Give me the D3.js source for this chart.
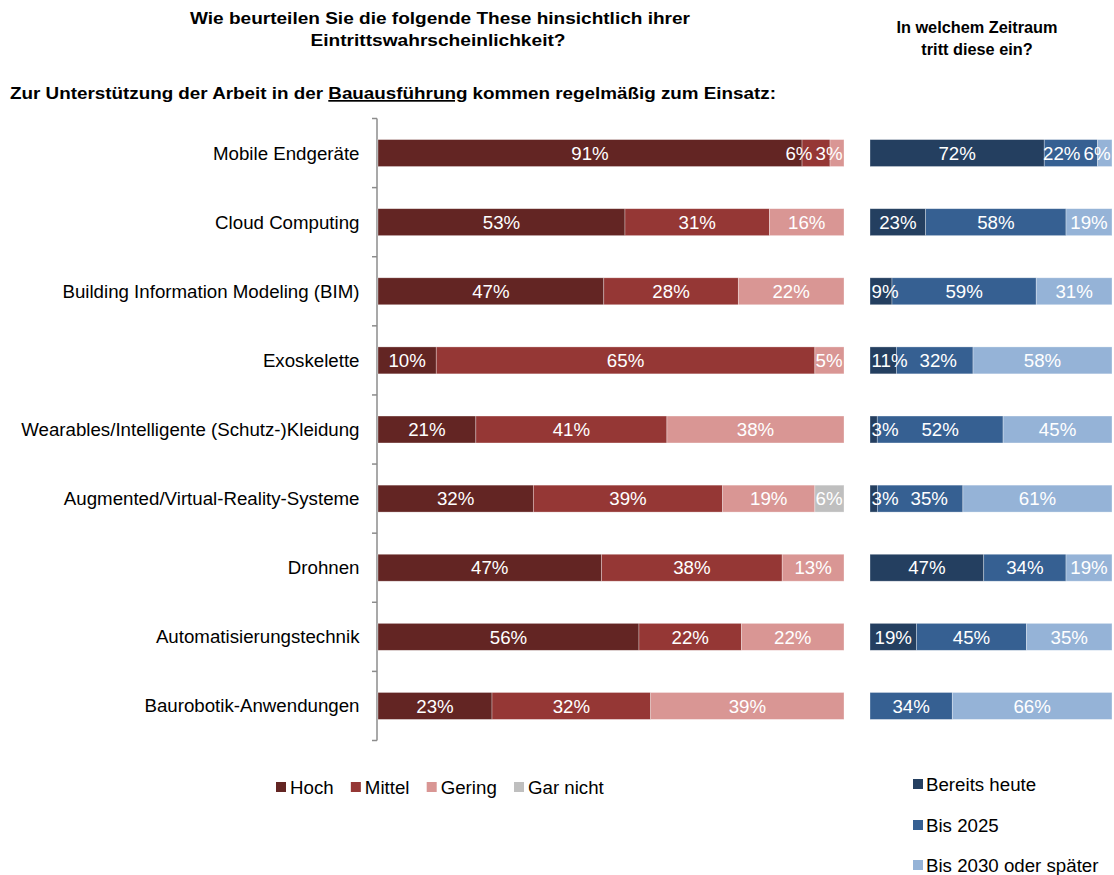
<!DOCTYPE html>
<html>
<head>
<meta charset="utf-8">
<script src="https://cdn.jsdelivr.net/npm/d3@7"></script>
<style>
  html, body { margin: 0; padding: 0; background: #fff; }
  svg { display: block; }
  text { font-family: "Liberation Sans", Arial, sans-serif; }
</style>
</head>
<body>
<svg id="chart" width="1114" height="875"></svg>
<script>
// ---------- DATA ----------
const categories = [
  "Mobile Endgeräte",
  "Cloud Computing",
  "Building Information Modeling (BIM)",
  "Exoskelette",
  "Wearables/Intelligente (Schutz-)Kleidung",
  "Augmented/Virtual-Reality-Systeme",
  "Drohnen",
  "Automatisierungstechnik",
  "Baurobotik-Anwendungen"
];
// Eintrittswahrscheinlichkeit (%)
const likelihoodKeys = ["Hoch", "Mittel", "Gering", "Gar nicht"];
const hoch     = [91, 53, 47, 10, 21, 32, 47, 56, 23];
const mittel   = [ 6, 31, 28, 65, 41, 39, 38, 22, 32];
const gering   = [ 3, 16, 22,  5, 38, 19, 13, 22, 39];
const garNicht = [ 0,  0,  0,  0,  0,  6,  0,  0,  0];
const likelihoodColors = ["#632523", "#953735", "#D99694", "#BFBFBF"];

// Zeitraum (%)
const timeKeys = ["Bereits heute", "Bis 2025", "Bis 2030 oder später"];
const bereitsHeute = [72, 23,  9, 11,  3,  3, 47, 19,  0];
const bis2025      = [22, 58, 59, 32, 52, 35, 34, 45, 34];
const bis2030      = [ 6, 19, 31, 58, 45, 61, 19, 35, 66];
const timeColors = ["#243F60", "#366092", "#95B3D7"];

const titleLeft = ["Wie beurteilen Sie die folgende These hinsichtlich ihrer", "Eintrittswahrscheinlichkeit?"];
const titleRight = ["In welchem Zeitraum", "tritt diese ein?"];

// ---------- BUILD ----------
const svg = d3.select("#chart");
const FS = 18.7;

const leftRows = categories.map((c, i) => ({
  cat: c, "Hoch": hoch[i], "Mittel": mittel[i], "Gering": gering[i], "Gar nicht": garNicht[i]
}));
const rightRows = categories.map((c, i) => ({
  cat: c, "Bereits heute": bereitsHeute[i], "Bis 2025": bis2025[i], "Bis 2030 oder später": bis2030[i]
}));

const y = d3.scaleBand().domain(categories).range([118.5, 740.5]).paddingInner(0.61).paddingOuter(0.305);
const xL = d3.scaleLinear().domain([0, 1]).range([378, 844]);
const xR = d3.scaleLinear().domain([0, 1]).range([870, 1112]);

// Titles
const tl = svg.append("g").attr("font-weight", "bold").attr("fill", "#000");
tl.append("text").attr("x", 440).attr("y", 24).attr("text-anchor", "middle").attr("font-size", 17)
  .attr("textLength", 500).attr("lengthAdjust", "spacingAndGlyphs").text(titleLeft[0]);
tl.append("text").attr("x", 438).attr("y", 46).attr("text-anchor", "middle").attr("font-size", 17)
  .attr("textLength", 255).attr("lengthAdjust", "spacingAndGlyphs").text(titleLeft[1]);
tl.append("text").attr("x", 977).attr("y", 33).attr("text-anchor", "middle").attr("font-size", 16.3).text(titleRight[0]);
tl.append("text").attr("x", 977).attr("y", 55).attr("text-anchor", "middle").attr("font-size", 16.3).text(titleRight[1]);

const sub = tl.append("text").attr("x", 10).attr("y", 99).attr("font-size", 17)
  .attr("textLength", 766).attr("lengthAdjust", "spacingAndGlyphs");
sub.append("tspan").text("Zur Unterstützung der Arbeit in der ");
sub.append("tspan").attr("text-decoration", "underline").text("Bauausführung");
sub.append("tspan").text(" kommen regelmäßig zum Einsatz:");

// Axis (category)
const axisG = svg.append("g");
axisG.append("line").attr("x1", 377).attr("x2", 377)
  .attr("y1", y.range()[0]).attr("y2", y.range()[1])
  .attr("stroke", "#8c8c8c").attr("stroke-width", 1.5);
const step = y.step();
d3.range(categories.length + 1).forEach(i => {
  const yy = y.range()[0] + i * step;
  axisG.append("line").attr("x1", 372).attr("x2", 377).attr("y1", yy).attr("y2", yy)
    .attr("stroke", "#8c8c8c").attr("stroke-width", 1.5);
});
axisG.selectAll("text.cat").data(categories).join("text")
  .attr("class", "cat")
  .attr("x", 359.5)
  .attr("y", d => y(d) + y.bandwidth() / 2)
  .attr("dy", "0.35em")
  .attr("text-anchor", "end")
  .attr("font-size", FS)
  .attr("fill", "#000")
  .text(d => d);

function drawStack(rows, keys, colors, x) {
  const stack = d3.stack().keys(keys).offset(d3.stackOffsetExpand);
  const series = stack(rows);
  const color = d3.scaleOrdinal().domain(keys).range(colors);
  const g = svg.append("g");
  series.forEach(s => {
    g.append("g").attr("fill", color(s.key))
      .selectAll("rect").data(s).join("rect")
      .attr("x", d => x(d[0]))
      .attr("y", d => y(d.data.cat))
      .attr("width", d => Math.max(0, x(d[1]) - x(d[0])))
      .attr("height", y.bandwidth())
      .attr("stroke", "#ffffff").attr("stroke-width", 0.7).attr("stroke-opacity", 0.45);
  });
  // Labels with simple collision handling
  const lg = svg.append("g").attr("font-size", FS).attr("fill", "#fff");
  rows.forEach((row, ri) => {
    const items = [];
    series.forEach(s => {
      const d = s[ri];
      const v = row[s.key];
      if (v > 0) {
        const t = lg.append("text")
          .attr("y", y(row.cat) + y.bandwidth() / 2)
          .attr("dy", "0.36em")
          .attr("text-anchor", "middle")
          .text(v + "%");
        const w = t.node().getComputedTextLength();
        items.push({ t, w, cx: (x(d[0]) + x(d[1])) / 2 });
      }
    });
    const x0 = x.range()[0], x1 = x.range()[1];
    const gf = 12, gb = 3;
    for (let i = 0; i < items.length; i++) {
      const it = items[i];
      const minLeft = i === 0 ? x0 + 1.5 : items[i - 1].cx + items[i - 1].w / 2 + gf;
      if (it.cx - it.w / 2 < minLeft) it.cx = minLeft + it.w / 2;
    }
    for (let i = items.length - 1; i >= 0; i--) {
      const it = items[i];
      const maxRight = i === items.length - 1 ? x1 - 1.5 : items[i + 1].cx - items[i + 1].w / 2 - gb;
      if (it.cx + it.w / 2 > maxRight) it.cx = maxRight - it.w / 2;
    }
    items.forEach(it => it.t.attr("x", it.cx));
  });
}

drawStack(leftRows, likelihoodKeys, likelihoodColors, xL);
drawStack(rightRows, timeKeys, timeColors, xR);

// Left legend (horizontal)
const legL = svg.append("g").attr("font-size", FS).attr("fill", "#000");
let lx = 276;
likelihoodKeys.forEach((k, i) => {
  legL.append("rect").attr("x", lx).attr("y", 782).attr("width", 10).attr("height", 10).attr("fill", likelihoodColors[i]);
  const t = legL.append("text").attr("x", lx + 14).attr("y", 787).attr("dy", "0.35em").text(k);
  lx += 14 + t.node().getComputedTextLength() + 17.2;
});

// Right legend (vertical)
const legR = svg.append("g").attr("font-size", FS).attr("fill", "#000");
const legRY = [784, 825, 865];
timeKeys.forEach((k, i) => {
  legR.append("rect").attr("x", 913).attr("y", legRY[i] - 5).attr("width", 10).attr("height", 10).attr("fill", timeColors[i]);
  legR.append("text").attr("x", 926).attr("y", legRY[i]).attr("dy", "0.35em").text(k);
});
</script>
</body>
</html>
